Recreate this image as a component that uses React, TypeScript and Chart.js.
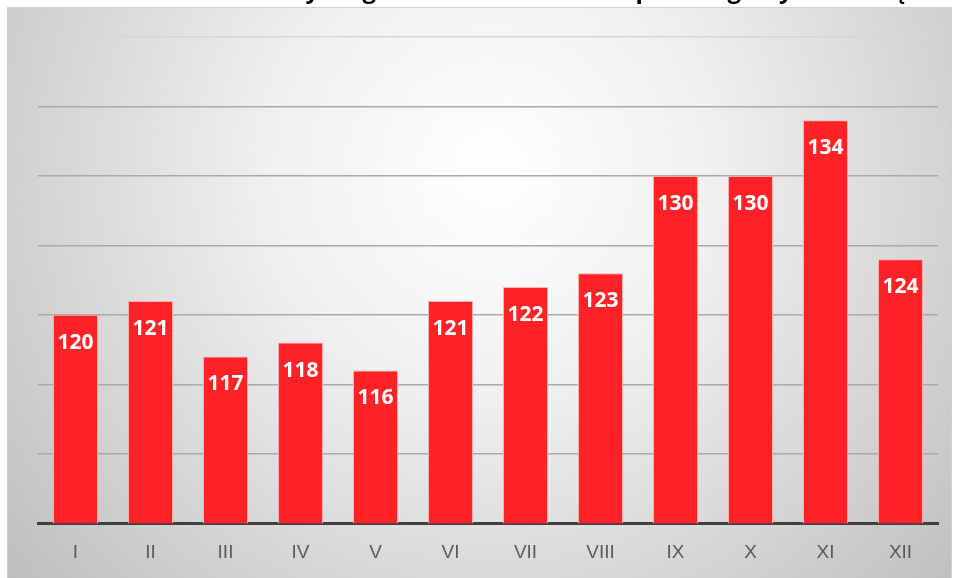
import React, { useEffect, useRef } from "react";
import { Chart, registerables } from "chart.js";

Chart.register(...registerables);

const months = ["I", "II", "III", "IV", "V", "VI", "VII", "VIII", "IX", "X", "XI", "XII"];
const values = [120, 121, 117, 118, 116, 121, 122, 123, 130, 130, 134, 124];
const yMin = 105;
const yMax = 140;
const yStep = 5;
const titleText = "Średnia dzienna liczba wizyt w gabinecie lekarskim w poszczególnych miesiącach";

const panelPlugin = {
  id: "panelBg",
  beforeDraw(chart: any) {
    const ctx = chart.ctx;
    ctx.save();
    ctx.fillStyle = "#ffffff";
    ctx.fillRect(0, 0, chart.width, chart.height);
    const g = ctx.createRadialGradient(490, 170, 0, 490, 170, 640);
    g.addColorStop(0, "#ffffff");
    g.addColorStop(0.35, "#f0f0f0");
    g.addColorStop(1, "#bdbdbd");
    ctx.fillStyle = g;
    ctx.fillRect(7, 7, 945, 600);
    ctx.strokeStyle = "#d0d0d0";
    ctx.lineWidth = 1;
    ctx.strokeRect(7.5, 7.5, 944, 600);
    ctx.restore();
  },
  afterDraw(chart: any) {
    const ctx = chart.ctx;
    ctx.save();
    ctx.fillStyle = "#000000";
    ctx.font = "bold 24px 'Open Sans'";
    ctx.textAlign = "center";
    ctx.textBaseline = "alphabetic";
    ctx.fillText(titleText, 477, -2);
    ctx.restore();
  },
};

const labelPlugin = {
  id: "barLabels",
  afterDatasetsDraw(chart: any) {
    const ctx = chart.ctx;
    const meta = chart.getDatasetMeta(0);
    ctx.save();
    ctx.fillStyle = "#ffffff";
    ctx.font = "bold 21px 'Open Sans'";
    ctx.textAlign = "center";
    ctx.textBaseline = "middle";
    meta.data.forEach((bar: any, i: number) => {
      ctx.fillText(String(values[i]), bar.x, bar.y + 28);
    });
    ctx.restore();
  },
};

export default function App() {
  const ref = useRef<HTMLCanvasElement | null>(null);
  useEffect(() => {
    if (!ref.current) return;
    const chart = new Chart(ref.current, {
      type: "bar",
      data: {
        labels: months,
        datasets: [
          {
            data: values,
            backgroundColor: "#fe2226",
            borderColor: "rgba(255,170,170,0.95)",
            borderWidth: 1,
            barPercentage: 0.6,
            categoryPercentage: 1,
          },
        ],
      },
      options: {
        animation: false,
        responsive: false,
        devicePixelRatio: 1,
        layout: { padding: { left: 38, right: 17, top: 37, bottom: -4 } },
        plugins: {
          legend: { display: false },
          title: { display: false },
          tooltip: { enabled: false },
        },
        scales: {
          x: {
            grid: { display: false, drawTicks: false },
            border: { display: true, color: "#404040", width: 3 },
            ticks: {
              color: "#595959",
              font: { size: 19, family: "'Liberation Sans'" },
              padding: 18,
            },
          },
          y: {
            min: yMin,
            max: yMax,
            ticks: { display: false, stepSize: yStep },
            border: { display: false },
            grid: {
              drawTicks: false,
              lineWidth: 1.5,
              color: (c: any) =>
                c.tick && c.tick.value === yMax ? "#d6d6d6" : "#a8a8a8",
            },
          },
        },
      },
      plugins: [panelPlugin, labelPlugin],
    });
    return () => chart.destroy();
  }, []);
  return (
    <div style={{ position: "fixed", left: 0, top: 0, width: 955, height: 578 }}>
      <canvas ref={ref} width={955} height={578} style={{ display: "block" }} />
    </div>
  );
}
